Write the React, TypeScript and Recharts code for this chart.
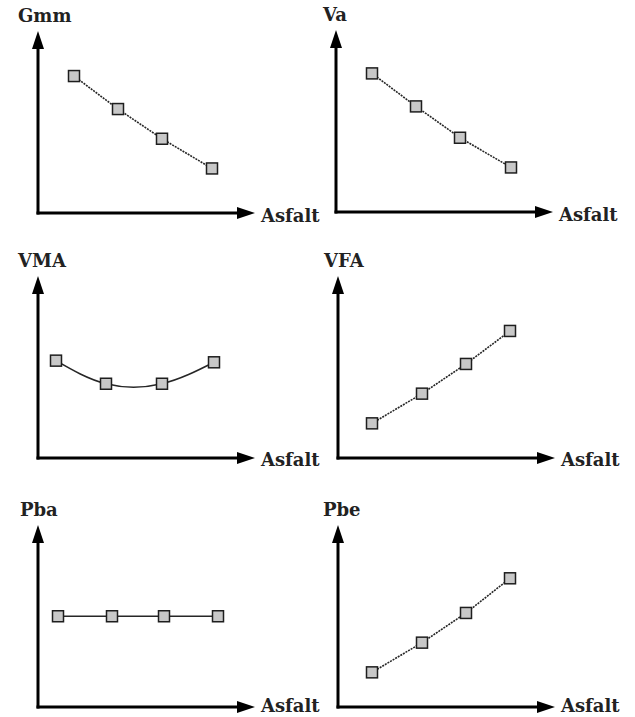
import React from 'react';
import { LineChart, Line, XAxis, YAxis } from 'recharts';

// axis names
const xName = 'Asfalt';
const panelTitles = ['Gmm', 'Va', 'VMA', 'VFA', 'Pba', 'Pbe'];

// values, both axes on a 0-10 scale
const gmmX = [1.8, 4.0, 6.2, 8.7];
const gmmY = [8.3, 6.3, 4.5, 2.7];

const vaX = [1.8, 4.0, 6.2, 8.75];
const vaY = [8.4, 6.4, 4.5, 2.7];

const vmaX = [0.9, 3.4, 6.2, 8.8];
const vmaY = [5.9, 4.5, 4.5, 5.8];

const vfaX = [1.7, 4.2, 6.4, 8.6];
const vfaY = [2.1, 3.9, 5.7, 7.7];

const pbaX = [1.0, 3.7, 6.3, 9.0];
const pbaY = [5.5, 5.5, 5.5, 5.5];

const pbeX = [1.7, 4.2, 6.4, 8.6];
const pbeY = [2.1, 3.9, 5.7, 7.8];

const toRows = (xs: number[], ys: number[]) => xs.map((x, i) => ({ x, y: ys[i] }));

const FONT = '"DejaVu Serif", serif';

const SquareDot = (props: any) => {
    const { cx, cy, index } = props;
    if (cx == null || cy == null) return <g key={`d-${index}`} />;
    return (
        <rect key={`d-${index}`} x={cx - 5.5} y={cy - 5.5} width={11} height={11}
            fill="#c8c8c8" stroke="#1e1e1e" strokeWidth={1.5} />
    );
};

const XNameLabel = (props: any) => {
    const vb = props.viewBox || {};
    return (
        <text x={vb.x + vb.width + 23} y={vb.y + props.dy} fontFamily={FONT} fontSize={18} fontWeight="bold" fill="#222">
            {xName}
        </text>
    );
};

const TitleLabel = (props: any) => {
    const vb = props.viewBox || {};
    return (
        <text x={vb.x + vb.width + props.dx} y={vb.y - 26} fontFamily={FONT} fontSize={18} fontWeight="bold" fill="#222">
            {props.title}
        </text>
    );
};

interface PanelProps {
    title: string;
    xs: number[];
    ys: number[];
    curve: 'linear' | 'natural';
    dashed: boolean;
    left: number;
    top: number;
    titleDx: number;
    nameDy: number;
}

const Panel: React.FC<PanelProps> = ({ title, xs, ys, curve, dashed, left, top, titleDx, nameDy }) => (
    <div style={{ position: 'absolute', left, top }}>
        <LineChart width={320} height={227} data={toRows(xs, ys)} margin={{ top: 48, right: 84, left: 0, bottom: 0 }}>
            <XAxis type="number" dataKey="x" domain={[0, 10]} tick={false} tickLine={false} height={14}
                axisLine={{ stroke: '#000', strokeWidth: 3, strokeLinecap: 'square', markerEnd: 'url(#axisArrow)' }}
                label={<XNameLabel dy={nameDy} />} />
            <YAxis type="number" domain={[0, 10]} tick={false} tickLine={false} width={36}
                axisLine={{ stroke: '#000', strokeWidth: 3, strokeLinecap: 'square', markerStart: 'url(#axisArrow)' }}
                label={<TitleLabel title={title} dx={titleDx} />} />
            <Line type={curve} dataKey="y" stroke="#262626" strokeWidth={1.6}
                strokeDasharray={dashed ? '2 1' : undefined}
                dot={SquareDot} activeDot={false} isAnimationActive={false} />
        </LineChart>
    </div>
);

export default function App() {
    return (
        <div style={{ position: 'absolute', left: 0, top: 0, width: 635, height: 717, overflow: 'hidden', background: '#fff' }}>
            <svg width={0} height={0} style={{ position: 'absolute' }}>
                <defs>
                    <marker id="axisArrow" viewBox="0 0 18 12" refX={1} refY={6} markerWidth={18} markerHeight={12}
                        markerUnits="userSpaceOnUse" orient="auto-start-reverse">
                        <path d="M0,0 L18,6 L0,12 Z" fill="#000" />
                    </marker>
                </defs>
            </svg>
            <Panel title={panelTitles[0]} xs={gmmX} ys={gmmY} curve="linear" dashed left={2} top={0} titleDx={-20} nameDy={9} />
            <Panel title={panelTitles[1]} xs={vaX} ys={vaY} curve="linear" dashed left={300} top={-1} titleDx={-13} nameDy={9} />
            <Panel title={panelTitles[2]} xs={vmaX} ys={vmaY} curve="natural" dashed={false} left={2} top={245} titleDx={-20} nameDy={8} />
            <Panel title={panelTitles[3]} xs={vfaX} ys={vfaY} curve="linear" dashed left={302} top={245} titleDx={-14} nameDy={8} />
            <Panel title={panelTitles[4]} xs={pbaX} ys={pbaY} curve="linear" dashed={false} left={2} top={494} titleDx={-18} nameDy={5} />
            <Panel title={panelTitles[5]} xs={pbeX} ys={pbeY} curve="linear" dashed left={302} top={494} titleDx={-15} nameDy={5} />
        </div>
    );
}
